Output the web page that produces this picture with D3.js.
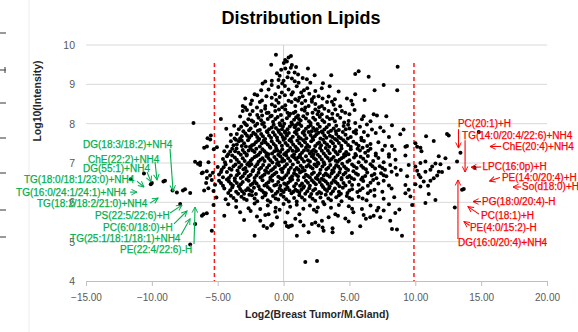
<!DOCTYPE html>
<meta charset="utf-8">
<style>
  body { margin: 0; background: #fff; }
  text { font-family: "Liberation Sans", Arial, sans-serif; }
</style>

<!-- Load d3.js -->
<script src="https://d3js.org/d3.v7.min.js"></script>

<div id="my_dataviz"></div>

<script>

// ---- data: [log2 ratio, log10 intensity] ----
var points = [
  // top of the cloud (y >= 9)
  [-0.58,9.75],[-0.94,9.5],[0.38,9.68],[0.56,9.72],[0.25,9.58],[0.02,9.54],[0.63,9.49],[8.66,9.45],[0.12,9.62],
  [0.13,9.4],[-0.18,9.37],[0.84,9.3],[0.38,9.3],[1.85,9.4],[2.36,9.23],[3.62,9.23],[5.44,9.26],[5.7,9.33],[-0.5,9.28],[0.55,9.42],[1.1,9.25],[-0.3,9.22],[0.95,9.44],
  [6.46,9.19],[-0.38,9.11],[0.0,9.09],[0.63,9.15],[1.14,9.04],[1.77,9.13],[2.03,9.04],[2.99,9.03],[-1.59,9.02],[-1.39,9.07],[-0.89,9.09],[0.3,9.18],[1.45,9.16],[-0.1,9.02],[0.85,9.08],[7.6,8.98],
  // 8.6 - 9.0
  [-1.14,8.87],[6.91,8.85],[8.63,8.85],[4.18,8.82],[2.41,8.83],[1.34,8.79],[0.38,8.87],[-0.13,8.79],[-2.2,8.75],[-0.63,8.75],[1.0,8.95],[1.8,8.9],[-0.4,8.93],[0.7,8.8],[2.9,8.9],[-1.7,8.85],[-0.9,8.98],[3.5,8.95],[0.1,8.96],[1.55,8.85],
  [-2.91,8.64],[6.15,8.6],[5.44,8.75],[4.81,8.64],[3.42,8.69],[2.96,8.64],[2.66,8.7],[2.15,8.62],[1.65,8.58],[0.89,8.62],[0.38,8.58],[-2.4,8.59],[-1.64,8.59],[-1.3,8.7],[-0.9,8.66],[-0.3,8.68],[0.1,8.72],[0.6,8.74],[1.2,8.66],[1.95,8.76],[3.9,8.62],[2.3,8.68],[-2.0,8.72],[-0.55,8.6],[1.45,8.7],[3.67,8.56],[5.14,8.58],
  // 8.2 - 8.6
  [-3.1,8.45],[-2.5,8.5],[-2.02,8.41],[-1.39,8.45],[-0.89,8.49],[-0.38,8.53],[0.13,8.47],[0.6,8.55],[0.89,8.45],[1.39,8.52],[1.9,8.45],[2.41,8.5],[2.91,8.45],[3.3,8.55],[3.8,8.48],[5.24,8.49],[4.3,8.44],[-1.8,8.55],[-0.1,8.42],[1.1,8.58],[2.7,8.42],[-2.92,8.41],[-0.65,8.44],[1.65,8.41],[2.15,8.56],
  [-3.1,8.32],[-2.78,8.35],[-2.35,8.32],[-1.7,8.32],[-1.14,8.28],[-0.63,8.32],[0.13,8.36],[0.5,8.25],[1.39,8.36],[2.41,8.36],[3.42,8.32],[3.93,8.36],[4.43,8.32],[4.68,8.28],[5.39,8.35],[6.08,8.19],[6.84,8.24],[7.09,8.21],[7.8,8.19],[-0.2,8.22],[0.9,8.3],[1.8,8.25],[2.9,8.24],[-1.4,8.38],[-2.0,8.22],[3.1,8.38],[1.1,8.21],[2.2,8.28],[-0.9,8.2],[4.1,8.22],[-0.35,8.36],[0.3,8.28],[1.6,8.33],[2.65,8.31],[3.7,8.25],[5.0,8.24],[-2.55,8.23],
  // 8.0 - 8.2
  [-6.84,8.02],[-4.76,8.12],[-3.3,8.18],[-2.67,8.11],[-2.3,8.05],[-1.9,8.15],[-1.5,8.02],[-1.2,8.12],[-0.8,8.05],[-0.45,8.17],[-0.1,8.08],[0.25,8.14],[0.6,8.03],[0.95,8.16],[1.3,8.08],[1.7,8.13],[2.05,8.02],[2.4,8.1],[2.75,8.17],[3.1,8.04],[3.5,8.12],[3.9,8.06],[4.3,8.15],[4.94,8.07],[5.44,8.02],[5.95,8.11],[-3.0,8.03],[-2.0,8.0],[-1.0,8.18],[0.05,8.0],[0.8,8.1],[1.5,8.19],[2.25,8.15],[2.95,8.09],[3.3,8.17],[4.6,8.03],[-0.3,8.01],[1.1,8.01],[-1.7,8.09],[6.6,8.06],
  [-2.42,8.08],[-1.63,8.21],[-0.62,8.12],[0.42,8.2],[1.17,8.12],[1.93,8.06],[2.58,8.24],[3.7,8.13],[-1.28,8.27],[0.76,8.27],
  // 7.8 - 8.0
  [-4.35,7.87],[-3.75,7.95],[-3.05,7.81],[-2.79,7.96],[-2.5,7.88],[-2.15,7.95],[-1.8,7.84],[-1.45,7.92],[-1.1,7.86],[-0.75,7.97],[-0.4,7.83],[-0.05,7.93],[0.3,7.86],[0.65,7.98],[1.0,7.83],[1.35,7.94],[1.7,7.87],[2.05,7.96],[2.4,7.82],[2.75,7.92],[3.1,7.85],[3.45,7.97],[3.8,7.88],[4.2,7.84],[4.56,7.94],[5.0,7.88],[5.5,7.83],[6.33,7.98],[6.71,7.85],[7.34,7.9],[7.6,7.81],[8.23,7.96],[9.11,7.85],[-2.9,7.99],[-1.95,7.82],[-0.9,7.9],[0.1,7.8],[0.85,7.91],[1.55,7.81],[2.25,7.89],[2.9,7.8],[3.6,7.82],[4.9,7.97],[5.8,7.92],[-3.4,7.86],[-0.25,7.96],[1.2,7.99],[2.6,7.99],[4.0,7.95],
  [-3.22,7.92],[-2.62,7.83],[-1.63,7.99],[-1.27,7.81],[-0.58,7.89],[0.47,7.93],[1.13,7.86],[1.88,7.92],[2.52,7.86],[3.27,7.91],[3.97,7.81],[4.72,7.86],[-0.12,7.86],[0.93,7.96],[2.13,7.81],
  // 7.6 - 7.8
  [-5.57,7.6],[-5.52,7.7],[-5.77,7.63],[-3.17,7.68],[-3.55,7.74],[-3.3,7.62],[-2.9,7.75],[-2.6,7.64],[-2.3,7.77],[-2.0,7.66],[-1.7,7.74],[-1.4,7.61],[-1.1,7.7],[-0.8,7.78],[-0.5,7.65],[-0.2,7.73],[0.1,7.62],[0.4,7.76],[0.7,7.67],[1.0,7.74],[1.3,7.62],[1.6,7.71],[1.9,7.79],[2.2,7.65],[2.5,7.73],[2.8,7.62],[3.1,7.7],[3.4,7.78],[3.7,7.66],[4.0,7.74],[4.35,7.63],[4.7,7.72],[5.1,7.66],[5.5,7.75],[5.9,7.64],[6.4,7.7],[7.0,7.76],[8.0,7.66],[8.86,7.73],[10.82,7.68],[12.41,7.74],[12.54,7.7],[14.82,7.79],[-2.45,7.7],[-0.95,7.64],[0.55,7.61],[1.45,7.77],[2.65,7.77],[3.9,7.61],[-1.85,7.61],[-0.35,7.79],[0.25,7.7],[1.15,7.66],[2.05,7.71],[3.25,7.64],[4.5,7.79],[6.1,7.79],[-4.0,7.72],
  [-3.72,7.62],[-2.77,7.69],[-2.13,7.73],[-1.57,7.68],[-1.23,7.78],[-0.66,7.71],[-0.07,7.66],[0.86,7.78],[1.73,7.63],[2.37,7.68],[2.97,7.77],[3.52,7.69],[4.17,7.67],[4.88,7.62],[5.32,7.79],[0.12,7.77],
  // 7.4 - 7.6
  [-4.3,7.42],[-5.06,7.4],[-5.82,7.42],[-6.03,7.39],[-3.55,7.47],[-3.17,7.43],[-4.0,7.55],[-3.8,7.45],[-3.4,7.55],[-3.0,7.5],[-2.7,7.58],[-2.4,7.45],[-2.1,7.53],[-1.8,7.42],[-1.5,7.57],[-1.2,7.47],[-0.9,7.55],[-0.6,7.43],[-0.3,7.52],[0.0,7.59],[0.3,7.45],[0.6,7.54],[0.9,7.41],[1.2,7.5],[1.5,7.58],[1.8,7.46],[2.1,7.55],[2.4,7.43],[2.7,7.52],[3.0,7.59],[3.3,7.47],[3.6,7.55],[3.9,7.42],[4.2,7.51],[4.55,7.58],[4.9,7.46],[5.3,7.54],[5.7,7.44],[6.1,7.56],[6.6,7.48],[7.2,7.53],[7.7,7.44],[8.23,7.43],[9.37,7.43],[9.25,7.41],[10.01,7.5],[10.14,7.41],[10.39,7.39],[11.4,7.56],[-2.55,7.41],[-1.65,7.5],[-0.75,7.48],[0.15,7.51],[1.05,7.57],[1.95,7.41],[2.85,7.45],[3.75,7.5],[-1.05,7.41],[0.45,7.58],[2.25,7.59],[4.05,7.58],[5.1,7.41],
  [-3.62,7.59],[-3.18,7.57],[-2.86,7.42],[-2.25,7.47],[-1.93,7.57],[-1.37,7.52],[-0.46,7.58],[-0.13,7.44],[0.73,7.47],[1.37,7.44],[1.63,7.53],[2.57,7.49],[3.12,7.52],[3.47,7.41],[4.38,7.44],[4.72,7.53],[5.52,7.49],[5.92,7.58],[6.35,7.43],
  // 7.2 - 7.4
  [-4.5,7.3],[-3.68,7.3],[-3.42,7.26],[-5.3,7.35],[-4.2,7.22],[-3.9,7.36],[-3.1,7.33],[-2.8,7.22],[-2.5,7.38],[-2.2,7.28],[-1.9,7.21],[-1.6,7.35],[-1.3,7.25],[-1.0,7.39],[-0.7,7.3],[-0.4,7.21],[-0.1,7.35],[0.2,7.27],[0.5,7.38],[0.8,7.22],[1.1,7.33],[1.4,7.26],[1.7,7.39],[2.0,7.24],[2.3,7.34],[2.6,7.21],[2.9,7.31],[3.2,7.38],[3.5,7.25],[3.8,7.34],[4.1,7.22],[4.4,7.37],[4.75,7.28],[5.1,7.35],[5.45,7.23],[5.8,7.32],[6.2,7.26],[6.6,7.36],[7.0,7.24],[7.5,7.33],[8.43,7.34],[8.0,7.22],[10.47,7.3],[13.43,7.26],[-2.35,7.32],[-1.45,7.3],[-0.55,7.37],[0.35,7.31],[1.25,7.21],[2.15,7.3],[3.05,7.24],[3.95,7.28],[-3.25,7.21],[-0.25,7.28],[0.95,7.3],[2.45,7.29],[4.6,7.22],[6.0,7.39],[-1.15,7.22],[1.85,7.32],
  [-4.05,7.29],[-3.57,7.37],[-2.97,7.27],[-2.65,7.32],[-2.07,7.36],[-1.77,7.27],[-0.87,7.24],[0.05,7.22],[0.67,7.31],[1.55,7.32],[2.27,7.22],[2.77,7.38],[3.37,7.31],[4.27,7.3],[4.93,7.22],[5.62,7.36],[6.42,7.31],[-0.45,7.31],[1.02,7.37],
  // 7.0 - 7.2
  [-6.33,7.01],[-5.7,7.02],[-6.72,7.03],[-4.6,7.1],[-4.3,7.17],[-4.0,7.05],[-3.7,7.14],[-3.4,7.02],[-3.1,7.12],[-2.8,7.19],[-2.5,7.06],[-2.2,7.15],[-1.9,7.03],[-1.6,7.12],[-1.3,7.18],[-1.0,7.07],[-0.7,7.15],[-0.4,7.02],[-0.1,7.11],[0.2,7.19],[0.5,7.05],[0.8,7.14],[1.1,7.02],[1.4,7.1],[1.7,7.17],[2.0,7.04],[2.3,7.13],[2.6,7.01],[2.9,7.09],[3.2,7.18],[3.5,7.06],[3.8,7.15],[4.1,7.03],[4.4,7.12],[4.7,7.19],[5.0,7.07],[5.35,7.14],[5.7,7.02],[6.05,7.11],[6.4,7.18],[6.8,7.05],[7.2,7.13],[7.6,7.02],[8.0,7.16],[8.5,7.08],[9.25,7.19],[10.77,7.04],[11.78,7.17],[12.29,7.12],[13.17,7.04],[-2.65,7.0],[-1.75,7.08],[-0.85,7.01],[0.05,7.06],[0.95,7.09],[1.85,7.07],[2.75,7.16],[3.65,7.1],[-3.9,7.19],[-0.25,7.17],[1.25,7.16],[2.45,7.09],[4.25,7.08],[5.5,7.19],
  [-4.45,7.02],[-3.55,7.08],[-2.95,7.05],[-2.38,7.1],[-2.05,7.18],[-1.45,7.05],[-1.15,7.13],[-0.55,7.09],[0.35,7.12],[0.65,7.18],[1.55,7.04],[2.15,7.17],[3.05,7.02],[3.35,7.13],[3.95,7.06],[4.55,7.15],[4.85,7.03],[5.85,7.16],[6.25,7.04],[7.0,7.19],[-0.12,7.04],[1.1,7.14],
  // 6.8 - 7.0
  [-6.5,6.98],[-6.34,6.95],[-5.0,6.9],[-4.7,6.83],[-4.4,6.96],[-4.1,6.86],[-3.8,6.92],[-3.5,6.81],[-3.2,6.95],[-2.9,6.87],[-2.6,6.93],[-2.3,6.82],[-2.0,6.97],[-1.7,6.88],[-1.4,6.81],[-1.1,6.94],[-0.8,6.85],[-0.5,6.98],[-0.2,6.84],[0.1,6.91],[0.4,6.82],[0.7,6.96],[1.0,6.87],[1.3,6.93],[1.6,6.81],[1.9,6.95],[2.2,6.86],[2.5,6.92],[2.8,6.83],[3.1,6.97],[3.4,6.88],[3.7,6.81],[4.0,6.94],[4.3,6.85],[4.6,6.91],[4.9,6.82],[5.2,6.96],[5.55,6.87],[5.9,6.93],[6.25,6.84],[6.6,6.97],[6.95,6.86],[7.3,6.92],[7.7,6.83],[8.1,6.95],[8.5,6.88],[8.9,6.82],[9.5,6.95],[10.01,6.91],[10.39,7.0],[11.28,6.91],[11.53,6.99],[11.91,6.97],[12.54,6.87],[11.15,6.83],[10.14,6.8],[14.5,6.88],[-3.35,6.89],[-2.45,6.97],[-1.55,6.95],[-0.65,6.9],[0.25,6.97],[1.15,6.83],[2.05,6.9],[2.95,6.91],[3.85,6.87],[-0.05,6.86],[1.45,6.88],[2.65,6.98],[4.45,6.98],
  [-4.55,6.89],[-3.95,6.83],[-3.65,6.96],[-3.05,6.84],[-2.75,6.97],[-2.15,6.91],[-1.85,6.84],[-1.25,6.88],[-0.95,6.81],[-0.35,6.94],[0.55,6.88],[0.85,6.82],[1.75,6.91],[2.35,6.96],[3.25,6.84],[3.55,6.95],[4.15,6.91],[4.75,6.86],[5.35,6.92],[6.05,6.88],[6.75,6.92],[7.5,6.87],
  // 6.6 - 6.8
  [-10.6,6.73],[-6.21,6.74],[-5.83,6.79],[-5.58,6.68],[-6.13,6.76],[-5.37,6.75],[-5.82,6.62],[-4.9,6.71],[-4.6,6.64],[-4.3,6.77],[-4.0,6.68],[-3.7,6.61],[-3.4,6.74],[-3.1,6.66],[-2.8,6.79],[-2.5,6.7],[-2.2,6.62],[-1.9,6.75],[-1.6,6.67],[-1.3,6.78],[-1.0,6.63],[-0.7,6.72],[-0.4,6.65],[-0.1,6.77],[0.2,6.69],[0.5,6.61],[0.8,6.74],[1.1,6.66],[1.4,6.79],[1.7,6.7],[2.0,6.63],[2.3,6.76],[2.6,6.68],[2.9,6.6],[3.2,6.73],[3.5,6.65],[3.8,6.78],[4.1,6.69],[4.4,6.62],[4.7,6.75],[5.0,6.67],[5.3,6.79],[5.65,6.7],[6.0,6.63],[6.35,6.76],[6.7,6.68],[7.05,6.61],[7.4,6.74],[7.8,6.66],[8.2,6.78],[8.6,6.7],[9.38,6.66],[10.26,6.7],[10.39,6.64],[10.77,6.78],[11.66,6.68],[11.4,6.61],[11.78,6.78],[12.03,6.77],[-2.65,6.66],[-1.45,6.71],[-0.25,6.61],[0.95,6.7],[2.15,6.72],[3.35,6.69],[4.55,6.71],[-3.25,6.62],[-0.55,6.76],[0.35,6.75],[1.55,6.64],[2.75,6.74],[3.95,6.63],[5.15,6.62],
  [-4.75,6.77],[-4.15,6.62],[-3.55,6.69],[-2.95,6.73],[-2.35,6.79],[-2.05,6.68],[-1.75,6.63],[-1.15,6.75],[-0.85,6.68],[0.05,6.63],[0.65,6.66],[1.25,6.76],[1.85,6.67],[2.45,6.62],[3.05,6.68],[3.65,6.73],[4.25,6.76],[4.85,6.64],[5.5,6.73],[6.2,6.67],[6.9,6.72],[7.6,6.69],
  // 6.4 - 6.6
  [-11.6,6.59],[-10.0,6.49],[-10.08,6.46],[-9.0,6.55],[-9.12,6.53],[-5.88,6.49],[-5.45,6.57],[-5.2,6.45],[-4.9,6.55],[-4.6,6.42],[-4.3,6.58],[-4.0,6.47],[-3.7,6.55],[-3.4,6.41],[-3.1,6.52],[-2.8,6.59],[-2.5,6.44],[-2.2,6.53],[-1.9,6.41],[-1.6,6.56],[-1.3,6.47],[-1.0,6.58],[-0.7,6.43],[-0.4,6.52],[-0.1,6.59],[0.2,6.45],[0.5,6.54],[0.8,6.41],[1.1,6.57],[1.4,6.48],[1.7,6.55],[2.0,6.42],[2.3,6.51],[2.6,6.59],[2.9,6.44],[3.2,6.53],[3.5,6.41],[3.8,6.56],[4.1,6.47],[4.4,6.58],[4.7,6.43],[5.0,6.52],[5.35,6.59],[5.7,6.45],[6.05,6.54],[6.4,6.42],[6.8,6.57],[7.2,6.48],[7.6,6.55],[8.0,6.43],[9.25,6.44],[10.01,6.46],[10.39,6.4],[10.64,6.53],[10.97,6.42],[11.15,6.55],[-3.55,6.49],[-2.35,6.47],[-1.15,6.51],[0.05,6.48],[1.25,6.42],[2.45,6.46],[3.65,6.49],[-0.55,6.45],[0.65,6.58],[1.85,6.5],[3.05,6.57],[4.25,6.41],
  [-4.75,6.49],[-4.15,6.53],[-3.85,6.43],[-3.25,6.46],[-2.65,6.55],[-2.05,6.48],[-1.45,6.43],[-0.85,6.55],[-0.25,6.42],[0.35,6.5],[0.95,6.47],[1.55,6.41],[2.15,6.56],[2.75,6.52],[3.35,6.47],[3.95,6.52],[4.55,6.49],[5.2,6.44],[5.9,6.58],[6.6,6.5],
  // 6.2 - 6.4
  [-8.43,6.3],[-8.1,6.25],[-7.64,6.3],[-7.48,6.33],[-7.09,6.24],[-6.03,6.3],[-5.71,6.36],[-5.32,6.29],[-4.5,6.35],[-4.2,6.24],[-3.9,6.38],[-3.6,6.27],[-3.3,6.34],[-3.0,6.22],[-2.7,6.36],[-2.4,6.28],[-2.1,6.21],[-1.8,6.33],[-1.5,6.25],[-1.2,6.39],[-0.9,6.29],[-0.6,6.22],[-0.3,6.35],[0.0,6.26],[0.3,6.38],[0.6,6.23],[0.9,6.32],[1.2,6.25],[1.5,6.37],[1.8,6.28],[2.1,6.21],[2.4,6.34],[2.7,6.26],[3.0,6.39],[3.3,6.29],[3.6,6.22],[3.9,6.35],[4.2,6.27],[4.5,6.37],[4.85,6.24],[5.2,6.33],[5.6,6.26],[6.0,6.36],[6.4,6.23],[6.9,6.32],[7.5,6.27],[8.2,6.35],[9.5,6.32],[9.25,6.23],[11.02,6.21],[13.55,6.32],[13.68,6.34],[-2.55,6.3],[-1.35,6.23],[-0.15,6.3],[1.05,6.29],[2.25,6.3],[3.45,6.36],[-3.15,6.28],[0.45,6.31],[1.65,6.22],[2.85,6.23],
  [-4.05,6.31],[-3.45,6.22],[-2.85,6.31],[-2.25,6.37],[-1.65,6.3],[-1.05,6.34],[-0.45,6.27],[0.15,6.33],[0.75,6.27],[1.35,6.32],[1.95,6.36],[2.55,6.22],[3.15,6.33],[3.75,6.28],[4.35,6.22],[5.0,6.3],[5.8,6.31],[6.6,6.29],
  // 6.0 - 6.2
  [-5.1,6.12],[-4.4,6.08],[-4.0,6.17],[-3.6,6.04],[-3.2,6.14],[-2.8,6.06],[-2.4,6.18],[-2.0,6.03],[-1.6,6.12],[-1.2,6.05],[-0.8,6.16],[-0.4,6.07],[0.0,6.14],[0.4,6.02],[0.8,6.11],[1.2,6.18],[1.6,6.06],[2.0,6.15],[2.4,6.04],[2.8,6.12],[3.2,6.19],[3.6,6.05],[4.0,6.13],[4.4,6.03],[4.8,6.16],[5.2,6.08],[5.7,6.14],[6.3,6.05],[6.9,6.17],[7.6,6.09],[8.4,6.13],[9.63,6.15],[11.53,6.06],[-1.0,6.01],[1.0,6.02],[3.0,6.01],[-2.6,6.19],[-0.2,6.19],
  [-3.8,6.11],[-3.0,6.09],[-2.2,6.1],[-1.4,6.18],[-0.6,6.1],[0.2,6.08],[1.4,6.12],[2.2,6.09],[3.4,6.1],[4.2,6.18],[5.0,6.11],[6.0,6.1],
  // 5.8 - 6.0
  [-7.85,5.96],[-5.32,5.93],[-4.2,5.95],[-3.6,5.88],[-2.66,5.85],[-1.77,5.83],[-2.2,5.97],[-1.2,5.92],[-0.6,5.86],[0.0,5.96],[0.5,5.89],[1.0,5.94],[1.5,5.84],[2.0,5.92],[2.6,5.87],[3.1,5.95],[3.6,5.86],[4.2,5.93],[4.95,5.9],[5.2,5.84],[5.95,5.83],[6.6,5.92],[7.2,5.86],[8.0,5.95],[8.79,5.82],[9.76,5.93],[10.77,5.98],[13.0,5.87],[-0.3,5.81],[2.3,5.81],
  // 5.6 - 5.8
  [-6.08,5.7],[-5.83,5.72],[-6.2,5.66],[-2.02,5.64],[-1.39,5.68],[-1.14,5.7],[-0.63,5.76],[-0.5,5.62],[3.42,5.62],[3.93,5.7],[4.13,5.66],[6.08,5.68],[6.58,5.62],[6.84,5.66],[7.09,5.79],[7.34,5.62],[7.6,5.79],[8.48,5.73],[-3.3,5.75],[-2.5,5.78],[0.3,5.74],[1.2,5.7],[2.5,5.76],[5.3,5.75],[-4.5,5.66],
  // 5.4 - 5.6
  [-6.71,5.45],[-1.77,5.53],[-1.52,5.4],[-0.94,5.41],[-0.84,5.45],[0.13,5.49],[0.89,5.58],[1.27,5.51],[1.52,5.41],[2.15,5.45],[2.41,5.49],[2.66,5.41],[2.91,5.53],[4.69,5.59],[4.94,5.51],[5.82,5.39],[6.25,5.58],[8.1,5.53],[0.25,5.4],[0.5,5.4],[0.63,5.41],[-3.0,5.55],
  // below 5.4
  [-5.45,5.28],[-7.09,4.93],[-1.26,5.35],[0.38,5.37],[1.01,5.15],[1.9,5.24],[2.96,5.36],[3.04,5.28],[3.72,5.34],[3.72,5.24],[5.19,5.22],[8.23,5.32],[8.61,5.31],[8.99,5.15],[-2.2,5.15],
  [1.65,4.48],[2.54,4.51]
];

// axis ticks
var xTicks = [-15, -10, -5, 0, 5, 10, 15, 20];
var yTicks = [4, 5, 6, 7, 8, 9, 10];

// cut-off lines (log2 fold change)
var cutoffs = [-5.25, 9.9];

// annotations: [text, label x, label y, arrow from x, from y, arrow to x, to y] in data units
var greenNotes = [
  ["DG(18:3/18:2)+NH4",      -15.23, 7.46,  -8.62, 7.36,  -8.39, 6.29],
  ["ChE(22:2)+NH4",          -14.85, 7.10,  -9.76, 7.03,  -9.61, 6.57],
  ["DG(55:1)+NH4",           -15.23, 6.85, -10.37, 6.77, -10.06, 6.52],
  ["TG(18:0/18:1/23:0)+NH4", -19.71, 6.57, -11.13, 6.54, -10.60, 6.39],
  ["TG(16:0/24:1/24:1)+NH4", -20.31, 6.26, -11.66, 6.26, -11.13, 6.26],
  ["TG(18:2/18:2/21:0)+NH4", -18.72, 5.98, -10.14, 5.98,  -9.53, 6.11],
  ["PS(22:5/22:6)+H",        -14.32, 5.67,  -8.62, 5.73,  -7.71, 5.93],
  ["PC(6:0/18:0)+H",         -13.71, 5.37,  -8.32, 5.45,  -7.33, 5.78],
  ["TG(25:1/18:1/18:1)+NH4", -16.21, 5.07,  -7.79, 5.17,  -7.10, 5.58],
  ["PE(22:4/22:6)-H",        -12.42, 4.81,  -6.80, 4.94,  -6.72, 5.88]
];
var redNotes = [
  ["PC(20:1)+H",             13.24, 8.00, 13.28, 7.86, 13.28, 7.38],
  ["TG(14:0/20:4/22:6)+NH4", 13.55, 7.69, 13.78, 7.58, 13.78, 6.77],
  ["ChE(20:4)+NH4",          16.62, 7.42, 16.51, 7.42, 15.67, 7.42],
  ["LPC(16:0p)+H",           15.10, 6.91, 14.99, 6.90, 14.23, 6.89],
  ["PE(14:0/20:4)+H",        16.58, 6.64, 16.43, 6.63, 15.64, 6.54],
  ["So(d18:0)+H",            18.10, 6.39, 18.03, 6.39, 17.42, 6.39],
  ["PG(18:0/20:4)-H",        15.07, 6.03, 14.99, 6.02, 14.38, 6.02],
  ["PC(18:1)+H",             14.99, 5.67, 14.84, 5.70, 14.00, 5.89],
  ["PE(4:0/15:2)-H",         14.15, 5.36, 14.12, 5.41, 13.70, 5.51],
  ["DG(16:0/20:4)+NH4",      13.24, 4.98, 13.24, 5.07, 13.24, 6.57]
];

// ---- layout ----
var W = 578, H = 332;
var margin = {top: 45, right: 31, bottom: 51, left: 86},
    width = W - margin.left - margin.right,
    height = H - margin.top - margin.bottom;

var root = d3.select("#my_dataviz")
  .append("svg")
    .attr("width", W)
    .attr("height", H);

root.append("rect").attr("width", W).attr("height", H).attr("fill", "#fff");

// arrow heads
var defs = root.append("defs");
[["g", "#00b050"], ["r", "#ff0000"]].forEach(function(m) {
  defs.append("marker")
      .attr("id", "arrow-" + m[0])
      .attr("viewBox", "0 0 10 10")
      .attr("refX", 9).attr("refY", 5)
      .attr("markerWidth", 7).attr("markerHeight", 7)
      .attr("markerUnits", "userSpaceOnUse")
      .attr("orient", "auto")
    .append("path")
      .attr("d", "M1,1 L9,5 L1,9")
      .attr("fill", "none")
      .attr("stroke", m[1])
      .attr("stroke-width", 1.4);
});

// left-edge remains of the neighbouring chart
root.append("line")
    .attr("x1", 29).attr("x2", 29).attr("y1", 0).attr("y2", H)
    .attr("stroke", "#ececec");
[33, 70, 103, 138, 173, 210, 237].forEach(function(yy) {
  root.append("line")
      .attr("x1", 0).attr("x2", 6).attr("y1", yy).attr("y2", yy)
      .attr("stroke", "#555").attr("stroke-width", 1.2);
});
root.append("line").attr("x1", 5).attr("x2", 5).attr("y1", 67).attr("y2", 73)
    .attr("stroke", "#555").attr("stroke-width", 1.2);

var svg = root.append("g")
    .attr("transform", "translate(" + margin.left + "," + margin.top + ")");

// scales
var x = d3.scaleLinear().domain([-15, 20]).range([0, width]);
var y = d3.scaleLinear().domain([4, 10]).range([height, 0]);

// horizontal gridlines
svg.append("g")
  .selectAll("line")
  .data(yTicks.slice(1))
  .enter()
  .append("line")
    .attr("x1", 0).attr("x2", width)
    .attr("y1", function(d) { return y(d); })
    .attr("y2", function(d) { return y(d); })
    .attr("stroke", "#d9d9d9");

// vertical axis crossing at 0
svg.append("line")
    .attr("x1", x(0)).attr("x2", x(0))
    .attr("y1", 0).attr("y2", height)
    .attr("stroke", "#cfcfcf");

// x axis
var xAxis = svg.append("g")
    .attr("transform", "translate(0," + height + ")")
    .call(d3.axisBottom(x).tickValues(xTicks).tickFormat(d3.format(".2f")).tickSize(5).tickPadding(8));
xAxis.select(".domain").attr("stroke", "#bfbfbf");
xAxis.selectAll(".tick line").attr("stroke", "#bfbfbf");
xAxis.selectAll("text")
    .style("font-size", "10px")
    .attr("fill", "#595959");

// y labels (no axis line)
var yAxis = svg.append("g")
    .call(d3.axisLeft(y).tickValues(yTicks).tickFormat(d3.format("d")).tickSize(0).tickPadding(11));
yAxis.select(".domain").remove();
yAxis.selectAll("text")
    .style("font-size", "10.5px")
    .attr("fill", "#595959");

// cut-off lines
svg.append("g")
  .selectAll("line")
  .data(cutoffs)
  .enter()
  .append("line")
    .attr("x1", function(d) { return x(d); })
    .attr("x2", function(d) { return x(d); })
    .attr("y1", y(9.54)).attr("y2", height)
    .attr("stroke", "#ff1a1a")
    .attr("stroke-width", 1.5)
    .attr("stroke-dasharray", "4,3");

// the dots
svg.append("g")
  .selectAll("circle")
  .data(points)
  .enter()
  .append("circle")
    .attr("cx", function(d) { return x(d[0]); })
    .attr("cy", function(d) { return y(d[1]); })
    .attr("r", 2)
    .attr("fill", "#000");

// annotations
function drawNotes(notes, color, id) {
  var g = svg.append("g");
  g.selectAll("line")
    .data(notes)
    .enter()
    .append("line")
      .attr("x1", function(d) { return x(d[3]); })
      .attr("y1", function(d) { return y(d[4]); })
      .attr("x2", function(d) { return x(d[5]); })
      .attr("y2", function(d) { return y(d[6]); })
      .attr("stroke", color)
      .attr("stroke-width", 1.1)
      .attr("marker-end", "url(#arrow-" + id + ")");
  g.selectAll("text")
    .data(notes)
    .enter()
    .append("text")
      .attr("x", function(d) { return x(d[1]); })
      .attr("y", function(d) { return y(d[2]); })
      .attr("dy", "0.35em")
      .style("font-size", "10px")
      .attr("fill", color)
      .attr("stroke", color)
      .attr("stroke-width", 0.25)
      .text(function(d) { return d[0]; });
}
drawNotes(greenNotes, "#00b050", "g");
drawNotes(redNotes, "#ff0000", "r");

// titles
root.append("text")
    .attr("x", 301).attr("y", 24)
    .attr("text-anchor", "middle")
    .style("font-size", "18px")
    .style("font-weight", "bold")
    .text("Distribution Lipids");

root.append("text")
    .attr("x", 317).attr("y", 318)
    .attr("text-anchor", "middle")
    .style("font-size", "10.5px")
    .style("font-weight", "bold")
    .attr("fill", "#262626")
    .text("Log2(Breast Tumor/M.Gland)");

root.append("text")
    .attr("transform", "translate(41,101) rotate(-90)")
    .attr("text-anchor", "middle")
    .style("font-size", "10.5px")
    .style("font-weight", "bold")
    .attr("fill", "#262626")
    .text("Log10(Intensity)");

</script>
